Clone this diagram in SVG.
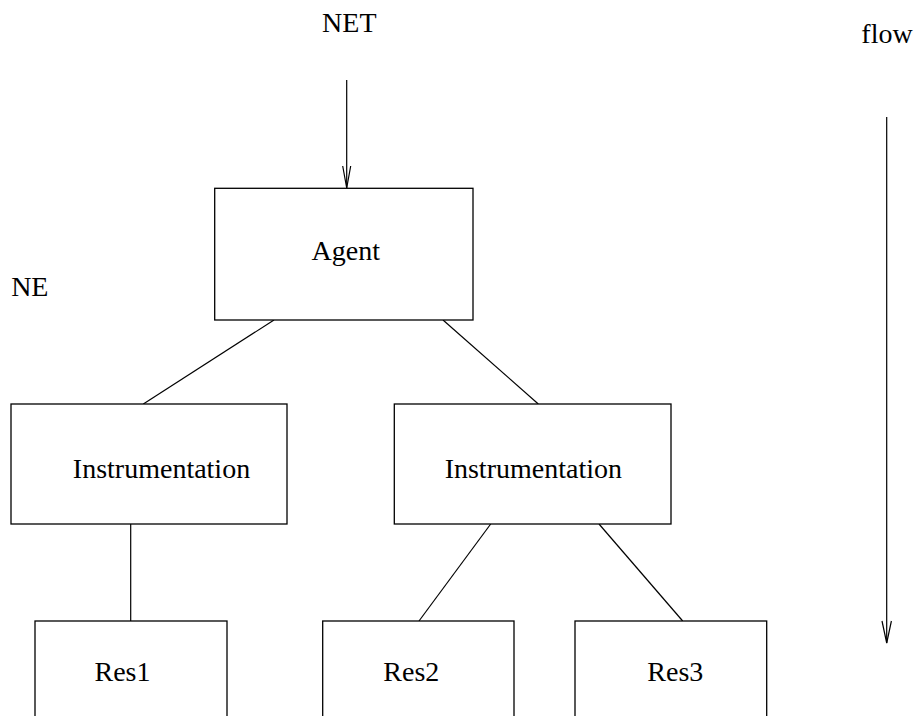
<svg xmlns="http://www.w3.org/2000/svg" width="919" height="716" viewBox="0 0 919 716">
<style>
.box{fill:#fff;stroke:#000;stroke-width:1.3}
.ln{fill:none;stroke:#000;stroke-width:1.2}
.ah{fill:none;stroke:#000;stroke-width:1.2}
text{font-family:"Liberation Serif","Times New Roman",serif;font-size:28px;fill:#000;text-anchor:middle}
</style>
<rect width="919" height="716" fill="#fff"/>
<g id="connectors">
<line class="ln" x1="346.7" y1="80" x2="346.7" y2="188"/>
<polyline class="ah" points="342.7,166 346.7,188 350.7,166"/>
<line class="ln" x1="886.7" y1="117" x2="886.7" y2="643"/>
<polyline class="ah" points="882,621 886.7,643 891.4,621"/>
<line class="ln" x1="274" y1="320" x2="143.3" y2="404"/>
<line class="ln" x1="443" y1="320" x2="538.3" y2="404"/>
<line class="ln" x1="130.7" y1="524" x2="130.7" y2="621"/>
<line class="ln" x1="490.7" y1="524" x2="419" y2="621"/>
<line class="ln" x1="599" y1="524" x2="682.7" y2="621"/>
</g>
<g id="label-net"><text x="349.3" y="32.3">NET</text></g>
<g id="label-flow"><text x="887" y="43">flow</text></g>
<g id="label-ne"><text x="29.8" y="296">NE</text></g>
<g id="agent"><rect class="box" x="214.7" y="188.3" width="258.3" height="131.7"/><text x="345.8" y="260">Agent</text></g>
<g id="instr1"><rect class="box" x="11" y="404" width="276" height="120"/><text x="161.5" y="477.7">Instrumentation</text></g>
<g id="instr2"><rect class="box" x="394.3" y="404" width="276.7" height="120"/><text x="533.3" y="477.7">Instrumentation</text></g>
<g id="res1"><rect class="box" x="35" y="621" width="192" height="105"/><text x="122.5" y="681">Res1</text></g>
<g id="res2"><rect class="box" x="322.7" y="621" width="191.3" height="105"/><text x="411.3" y="681">Res2</text></g>
<g id="res3"><rect class="box" x="575" y="621" width="191.7" height="105"/><text x="675.3" y="681">Res3</text></g>
</svg>
